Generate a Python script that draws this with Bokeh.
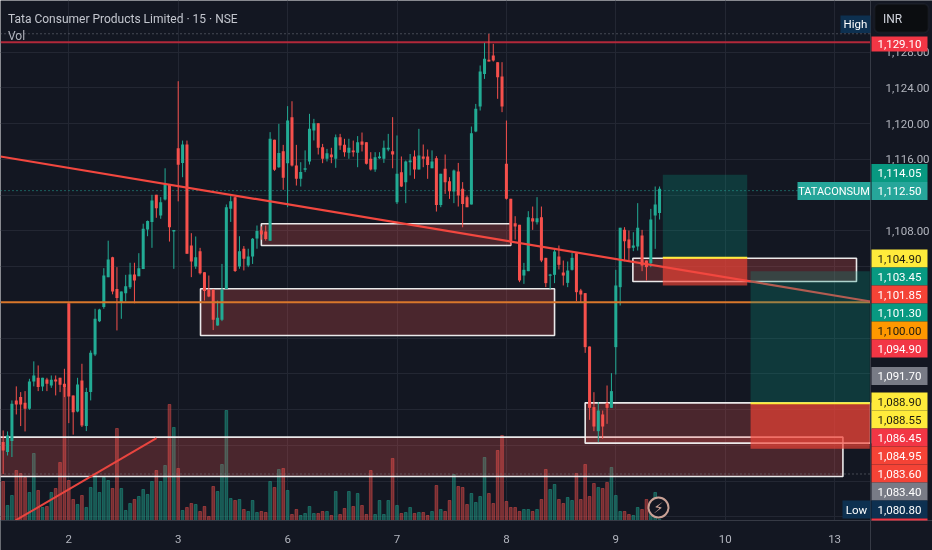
from bokeh.plotting import figure
from bokeh.embed import file_html
from bokeh.resources import INLINE
from bokeh.models import Range1d, FixedTicker, Label, BoxAnnotation

# ---- data ----
first_bar = -15
opens = [1084.37,1083.25,1084.48,1089.03,1089.4,1088.77,1088.1,1091.15,1091.56,1090.6,1091.37,1090.7,1091.37,1091.56,1090.89,
 1099.9,1089.59,1087.8,1091.26,1086.16,1089.96,1094.17,1097.9,1099.47,1102.82,1105.06,1101.5,1100.03,1101.03,1101.7,
 1103.12,1102.93,1103.72,1108.15,1109.0,1112.03,1109.72,1111.5,1113.15,1107.93,1117.25,1115.6,1117.66,1106.36,1104.02,
 1105.73,1103.38,1101.4,1101.4,1097.4,1098.05,1101.5,1110.47,1111.77,1104.02,1106.0,1104.13,1105.13,1107.15,1108.04,
 1107.93,1106.9,1118.18,1115.12,1116.91,1115.57,1120.72,1115.31,1113.82,1114.83,1115.76,1119.23,1120.05,1117.36,1116.06,
 1116.54,1116.06,1118.48,1117.62,1116.73,1117.0,1116.73,1118.0,1117.92,1116.06,1114.86,1116.13,1116.06,1117.1,1116.9,
 1111.2,1114.56,1113.45,1115.68,1116.32,1114.86,1116.32,1116.32,1115.0,1116.13,1110.9,1114.94,1113.56,1112.4,1114.64,
 1112.7,1111.77,1110.95,1119.11,1121.9,1125.56,1127.13,1127.61,1126.87,1125.26,1115.5,1111.58,1108.86,1108.67,1103.0,
 1103.49,1109.42,1108.97,1109.53,1104.98,1102.97,1103.08,1105.13,1103.34,1102.18,1103.64,1105.5,1101.33,1101.03,1095.06,
 1088.28,1085.59,1087.46,1088.73,1088.2,1094.99,1101.7,1108.11,1107.03,1106.1,1106.25,1107.48,1104.68,1104.38,1109.72,1110.01]
closes = [1083.43,1085.1,1088.65,1088.58,1088.58,1088.1,1091.15,1091.82,1090.52,1091.56,1090.89,1091.34,1091.15,1090.78,1090.52,
 1089.47,1087.72,1090.82,1086.23,1089.96,1094.36,1098.16,1099.2,1103.0,1104.8,1101.22,1100.5,1101.22,1101.8,1103.12,
 1102.45,1103.83,1108.23,1109.1,1111.4,1110.54,1111.2,1113.19,1108.4,1108.1,1115.4,1117.66,1105.43,1104.57,1105.06,
 1103.27,1101.26,1100.66,1098.05,1098.27,1101.4,1110.65,1111.32,1103.5,1105.73,1104.87,1105.13,1107.11,1107.97,1107.6,
 1107.1,1118.3,1114.83,1116.7,1113.93,1120.34,1115.31,1113.82,1114.57,1115.0,1119.41,1120.05,1117.29,1116.06,1116.69,
 1116.24,1118.48,1117.55,1116.8,1117.29,1116.8,1117.92,1117.62,1115.5,1114.86,1116.24,1116.32,1117.29,1117.29,1116.54,
 1114.38,1112.96,1115.76,1115.87,1114.86,1116.43,1116.06,1115.38,1115.76,1110.9,1114.38,1113.45,1112.44,1114.75,1111.95,
 1111.0,1110.65,1118.93,1121.65,1125.82,1127.24,1126.94,1127.05,1125.19,1121.9,1111.58,1106.9,1108.5,1102.45,1103.64,
 1109.53,1109.05,1109.42,1104.68,1102.15,1103.12,1105.69,1104.2,1103.0,1103.56,1104.98,1101.14,1100.88,1094.99,1088.2,
 1086.11,1087.9,1086.11,1088.2,1090.07,1101.89,1108.34,1106.85,1106.06,1106.36,1108.34,1104.12,1103.94,1109.27,1110.95,1112.7]
highs = [1085.67,1085.56,1089.03,1090.6,1089.96,1090.07,1091.45,1093.4,1092.94,1091.56,1091.56,1091.82,1091.82,1091.56,1092.57,
 1099.9,1089.59,1091.56,1093.13,1090.44,1094.62,1099.28,1099.28,1103.83,1106.9,1105.1,1103.94,1101.22,1103.08,1104.43,
 1104.43,1105.5,1108.8,1109.16,1112.03,1112.03,1111.77,1115.0,1113.15,1108.1,1124.74,1118.1,1118.1,1107.74,1107.37,
 1106.1,1103.38,1103.0,1101.5,1100.2,1104.3,1110.95,1111.88,1111.85,1107.4,1106.3,1106.0,1107.2,1108.6,1108.5,
 1108.6,1119.04,1118.2,1119.97,1117.62,1121.95,1122.5,1117.62,1115.68,1117.0,1121.09,1120.53,1120.05,1117.73,1117.17,
 1117.29,1118.78,1118.85,1118.3,1118.3,1118.1,1118.6,1119.0,1117.92,1116.8,1116.8,1116.8,1118.1,1118.85,1120.72,
 1118.67,1116.32,1115.87,1116.6,1117.0,1119.41,1117.66,1117.1,1117.0,1116.36,1114.38,1116.54,1114.0,1114.86,1115.6,
 1113.45,1111.95,1119.67,1122.2,1126.5,1129.03,1130.04,1128.92,1126.87,1126.87,1120.34,1111.58,1109.64,1108.67,1104.42,
 1110.2,1110.72,1111.77,1110.72,1104.98,1103.19,1105.99,1106.36,1104.68,1104.57,1105.54,1105.62,1101.51,1101.03,1095.06,
 1089.95,1088.84,1087.9,1090.7,1092.08,1103.64,1108.34,1108.41,1108.04,1107.85,1111.1,1108.11,1104.68,1110.46,1112.96,1112.96]
lows = [1080.8,1082.87,1082.7,1087.46,1086.16,1085.56,1087.98,1090.6,1090.07,1090.07,1090.07,1090.44,1089.59,1089.96,1089.4,
 1086.49,1085.2,1087.7,1086.05,1085.6,1089.03,1093.99,1097.79,1099.28,1102.82,1100.9,1096.86,1098.16,1100.1,1101.5,
 1099.9,1102.93,1103.72,1107.4,1106.1,1109.46,1109.35,1111.4,1106.8,1103.75,1111.3,1114.0,1105.43,1102.82,1103.75,
 1103.12,1100.2,1100.58,1096.9,1097.4,1097.9,1101.5,1109.0,1103.4,1103.76,1103.57,1103.94,1104.3,1106.0,1107.0,
 1106.9,1106.9,1114.7,1115.05,1112.6,1110.65,1115.2,1113.07,1112.96,1114.57,1115.42,1118.11,1116.54,1115.57,1115.76,
 1115.57,1115.05,1117.06,1116.3,1116.06,1116.3,1115.12,1116.88,1115.42,1114.75,1114.6,1116.06,1115.6,1116.9,1115.0,
 1111.0,1112.9,1111.1,1114.2,1113.82,1114.86,1115.12,1113.82,1115.0,1110.16,1110.65,1112.14,1111.58,1111.1,1110.72,
 1108.4,1110.65,1110.95,1119.04,1121.46,1125.0,1126.94,1126.94,1122.77,1121.28,1111.5,1106.4,1107.03,1102.26,1102.07,
 1103.49,1108.11,1108.71,1104.5,1101.7,1101.48,1102.15,1103.68,1101.89,1101.7,1103.56,1100.13,1100.02,1094.35,1086.86,
 1085.59,1084.36,1084.74,1086.41,1088.2,1091.93,1099.65,1104.6,1104.68,1105.73,1105.8,1103.49,1102.45,1103.94,1105.99,1109.27]
volumes = [39,15,25,50,47,43,28,67,30,13,14,28,32,58,133,
 40,21,16,25,13,33,45,28,43,40,32,92,32,10,17,21,24,31,26,39,50,39,55,116,93,
 52,10,13,17,16,9,14,4,34,29,56,110,22,20,21,11,9,20,8,9,8,39,33,51,52,
 30,6,11,5,7,14,7,7,9,9,5,29,6,12,29,14,27,15,6,50,6,20,6,20,62,
 15,7,8,13,7,8,8,5,9,35,11,9,20,46,34,33,16,27,18,24,63,27,17,70,85,
 19,13,13,9,11,11,9,11,21,51,31,36,21,17,23,20,47,21,56,24,37,33,32,38,53,
 25,9,9,6,5,13,11,21,8,28,1]
day_labels = ["2","3","6","7","8","9","10","13"]
price_ticks = [1128,1124,1120,1116,1108]
grid_prices = [1128,1124,1120,1116,1112,1108,1104,1100,1096,1092,1088,1084,1080,1076]
badge_texts = ["1,129.10","1,114.05","1,112.50","1,104.90","1,103.45","1,101.85","1,101.30","1,100.00","1,094.90",
               "1,091.70","1,088.90","1,088.55","1,086.45","1,084.95","1,083.60","1,083.40","1,080.80"]
badge_fill = ["#f23645","#089981","#26a69a","#ffeb3b","#089981","#f44336","#089981","#ff9800","#f23645",
              "#787b86","#ffeb3b","#ffeb3b","#f23645","#f44336","#f44336","#787b86","#0d3050"]
badge_ink = ["#ffffff","#ffffff","#ffffff","#1c1a10","#ffffff","#ffffff","#ffffff","#1c1a10","#ffffff",
             "#ffffff","#1c1a10","#1c1a10","#ffffff","#ffffff","#ffffff","#ffffff","#ffffff"]
# zones: first bar, last bar, top price, bottom price
zone_left = [-20, 44, 30.1, 128.9, 118.0]
zone_right = [176.9, 101, 111, 180, 183.2]
zone_top = [1084.92, 1108.79, 1101.52, 1104.94, 1088.76]
zone_bottom = [1080.52, 1106.36, 1096.3, 1102.33, 1084.25]
# ---- end data ----

BG = "#131722"; GRID = "#232733"; TEAL = "#22ab94"; RED = "#f6504c"
FONT = "Roboto"
H_PAGE = 550
# the price and time scales sit inside the frame so that their badges are not clipped
X_START, X_SCALE, X_END = -15.61, 183.2, 197.37
Y_FLOOR, Y_TIME, Y_TOP = 1072.24, 1075.6, 1133.77

p = figure(width=932, height=H_PAGE, output_backend="svg", toolbar_location=None,
           x_range=Range1d(X_START, X_END), y_range=Range1d(Y_FLOOR, Y_TOP),
           x_axis_location="below", y_axis_location="right",
           min_border_left=0, min_border_top=0, min_border_right=0, min_border_bottom=0,
           background_fill_color=BG, border_fill_color=BG, outline_line_color=None)
p.styles = {"position": "fixed", "left": "0", "top": "0"}
p.extra_y_ranges = {"vol": Range1d(-30, 520)}

day_ticks = [25 * k for k in range(len(day_labels))]
p.xaxis.ticker = FixedTicker(ticks=day_ticks)
p.xaxis.major_label_overrides = {t: s for t, s in zip(day_ticks, day_labels)}
p.yaxis.ticker = FixedTicker(ticks=price_ticks)
p.yaxis.major_label_overrides = {t: f"{t:,}.00" for t in price_ticks}
p.xaxis.fixed_location = Y_TIME
p.yaxis.fixed_location = X_SCALE
for ax in (p.xaxis[0], p.yaxis[0]):
    ax.axis_line_color = "#363a45"
    ax.major_tick_line_color = None
    ax.minor_tick_line_color = None
    ax.major_label_text_color = "#b2b5be"
    ax.major_label_text_font = FONT
    ax.major_label_text_font_size = "11.5px"
p.yaxis.major_label_standoff = 9
p.xaxis.major_label_standoff = 9
p.xgrid.ticker = FixedTicker(ticks=day_ticks)
p.ygrid.ticker = FixedTicker(ticks=grid_prices)
p.xgrid.grid_line_color = GRID
p.ygrid.grid_line_color = GRID

xs = [first_bar + k for k in range(len(opens))]
ups = [c >= o for o, c in zip(opens, closes)]
colors = [TEAL if u else RED for u in ups]
x0, x1 = X_START, X_SCALE

# scale strips hide the grid
p.quad(left=[X_SCALE], right=[X_END], top=[Y_TOP], bottom=[Y_FLOOR], fill_color=BG, line_color=None)
p.quad(left=[X_START], right=[X_END], top=[Y_TIME], bottom=[Y_FLOOR], fill_color=BG, line_color=None)

# volume
p.vbar(x=xs, top=volumes, bottom=0, width=0.62, color=colors, alpha=0.42, y_range_name="vol")

# zones
p.quad(left=zone_left, right=zone_right, top=zone_top, bottom=zone_bottom,
       fill_color="#ef5350", fill_alpha=0.25, line_color="#f4f4f4", line_alpha=0.95, line_width=1.6)

# first trade box
p.quad(left=[135.74], right=[155.03], top=[1114.27], bottom=[1105.0], fill_color="#089981", fill_alpha=0.27, line_color=None)
p.quad(left=[135.74], right=[155.03], top=[1105.0], bottom=[1101.89], fill_color="#f44336", fill_alpha=0.65, line_color=None)
p.segment(x0=[135.74], x1=[155.03], y0=[1105.0], y1=[1105.0], line_color="#ffeb3b", line_width=2)

# price lines
p.segment(x0=[x0], x1=[x1], y0=[1129.1], y1=[1129.1], line_color="#b2283a", line_width=2)
p.segment(x0=[x0], x1=[x1], y0=[1130.05], y1=[1130.05], line_color="#787b86", line_width=1, line_dash="1 3")
p.segment(x0=[x0], x1=[x1], y0=[1080.8], y1=[1080.8], line_color="#787b86", line_width=1, line_dash="1 3")
p.segment(x0=[x0], x1=[x1], y0=[1112.5], y1=[1112.5], line_color="#26a69a", line_width=1, line_dash="1 3")

# candles
p.segment(x0=xs, x1=xs, y0=lows, y1=highs, line_color=colors, line_width=1)
p.vbar(x=xs, top=[max(o, c) for o, c in zip(opens, closes)], bottom=[min(o, c) for o, c in zip(opens, closes)],
       width=0.69, fill_color=colors, line_color=None)

# orange and trend lines
p.segment(x0=[x0], x1=[x1], y0=[1100.0], y1=[1100.0], line_color="#d9772b", line_width=2)
p.segment(x0=[x0], x1=[x1], y0=[1116.32], y1=[1100.1], line_color="#f2473f", line_width=2.2)
p.segment(x0=[-12.18], x1=[20.04], y0=[1075.6], y1=[1084.8], line_color="#e9453f", line_width=2)

# second trade box
p.quad(left=[155.8], right=[183.04], top=[1103.49], bottom=[1088.7], fill_color="#089981", fill_alpha=0.27, line_color=None)
p.quad(left=[155.8], right=[183.04], top=[1088.7], bottom=[1083.62], fill_color="#f44336", fill_alpha=0.65, line_color=None)
p.segment(x0=[155.8], x1=[183.04], y0=[1088.7], y1=[1088.7], line_color="#ffeb3b", line_width=2)

# flash icon
p.scatter(x=[134.75], y=[13], size=20, marker="circle", fill_color=BG, line_color="#c9a296", line_width=2, y_range_name="vol")
p.add_layout(Label(x=658, y=H_PAGE - 507, x_units="screen", y_units="screen", text="⚡", text_color="#c9a296",
                   text_font="DejaVu Sans", text_font_size="15px", text_align="center", text_baseline="middle"))

def badge(left, right, top, bottom, text, fill, ink, font_size="11.5px"):
    p.add_layout(BoxAnnotation(left=left, right=right, top=H_PAGE - top, bottom=H_PAGE - bottom,
                               left_units="screen", right_units="screen", top_units="screen", bottom_units="screen",
                               fill_color=fill, fill_alpha=1, line_color=None))
    if text:
        p.add_layout(Label(x=(left + right) / 2, y=H_PAGE - (top + bottom) / 2,
                           x_units="screen", y_units="screen", text=text, text_color=ink,
                           text_font=FONT, text_font_size=font_size,
                           text_align="center", text_baseline="middle"))

slot_tops = [36, 163.5, 181.5, 249, 267, 285, 303, 321, 339, 366.5, 392, 410, 428, 446, 464, 482, 500]
badge_left, badge_right = 871, 927
for t, txt, f, ink in zip(slot_tops, badge_texts, badge_fill, badge_ink):
    bottom = 51 if t == 36 else t + 18
    badge(badge_left, badge_right, t, bottom, txt, f, ink)
badge(871, 927, 518, 520, "", "#f23645", "#ffffff")
badge(797, 870, 181.5, 199.5, "TATACONSUM", "#26a69a", "#ffffff", "11px")
badge(840, 870, 15, 32.5, "High", "#0d3050", "#ffffff")
badge(842, 870, 500, 518, "Low", "#0d3050", "#ffffff")

# currency button
p.add_layout(BoxAnnotation(left=874, right=928, top=H_PAGE - 3.5, bottom=H_PAGE - 32,
                           left_units="screen", right_units="screen", top_units="screen", bottom_units="screen",
                           fill_color="#0b0d10", fill_alpha=1, line_color="#2a2e39", line_width=2, border_radius=5))
p.add_layout(Label(x=882.5, y=H_PAGE - 18.5, x_units="screen", y_units="screen", text="INR", text_color="#d1d4dc",
                   text_font=FONT, text_font_size="12px", text_align="left", text_baseline="middle"))

# legend texts
p.add_layout(Label(x=7.5, y=H_PAGE - 18, x_units="screen", y_units="screen", text="Tata Consumer Products Limited · 15 · NSE",
                   text_color="#c3c6ce", text_font=FONT, text_font_size="12px", text_align="left", text_baseline="middle"))
p.add_layout(Label(x=7.5, y=H_PAGE - 35, x_units="screen", y_units="screen", text="Vol",
                   text_color="#b2b5be", text_font=FONT, text_font_size="12px", text_align="left", text_baseline="middle"))

open("out.html", "w").write(file_html(p, INLINE))
